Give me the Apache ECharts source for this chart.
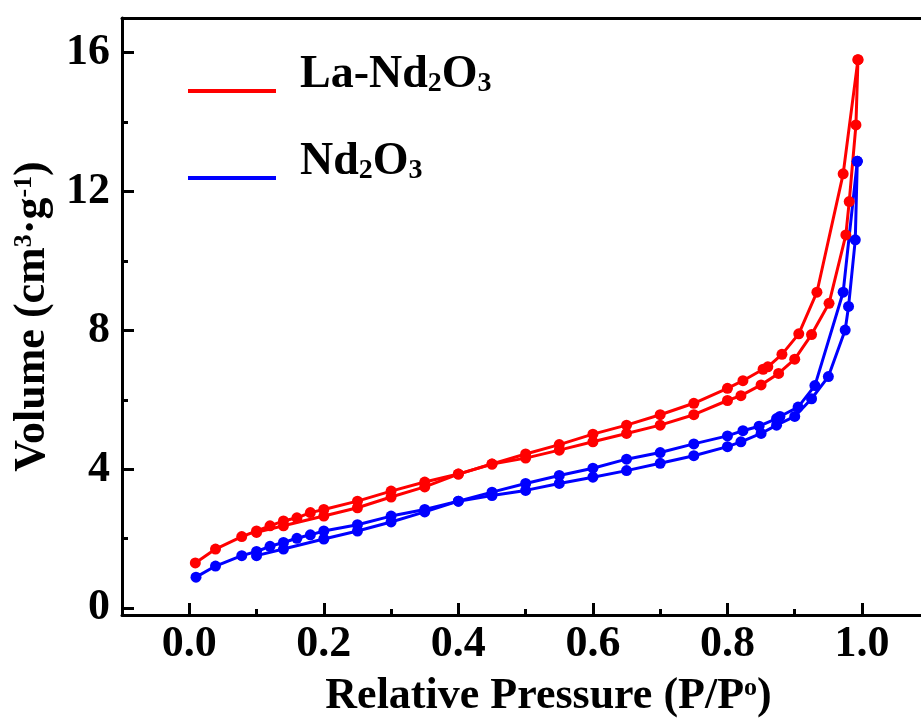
<!DOCTYPE html>
<html>
<head>
<meta charset="utf-8">
<script src="https://cdn.jsdelivr.net/npm/echarts@6/dist/echarts.min.js"></script>
<style>html,body{margin:0;padding:0;background:#fff}#c{width:921px;height:724px}</style>
</head>
<body>
<div id="c"></div>
<script>
// Data (P/P0, volume cm3/g)
var laAdsP = [0.009,0.039,0.078,0.10,0.12,0.14,0.16,0.18,0.20,0.25,0.30,0.35,0.40,0.45,0.50,0.55,0.60,0.65,0.70,0.75,0.80,0.82,0.85,0.876,0.90,0.925,0.951,0.976,0.981,0.991,0.994];
var laAdsV = [1.30,1.70,2.06,2.22,2.37,2.51,2.60,2.75,2.84,3.08,3.37,3.63,3.86,4.15,4.32,4.55,4.79,5.03,5.27,5.57,5.98,6.12,6.43,6.76,7.17,7.88,8.78,10.75,11.71,13.92,15.80];
var laDesP = [0.994,0.972,0.933,0.906,0.881,0.86,0.853,0.823,0.80,0.75,0.70,0.65,0.60,0.55,0.50,0.45,0.40,0.35,0.30,0.25,0.20,0.14,0.10];
var laDesV = [15.80,12.51,9.10,7.90,7.31,6.95,6.88,6.55,6.33,5.90,5.57,5.27,5.01,4.71,4.44,4.15,3.86,3.49,3.20,2.89,2.65,2.37,2.18];
var ndAdsP = [0.01,0.039,0.078,0.10,0.12,0.14,0.16,0.18,0.20,0.25,0.30,0.35,0.40,0.45,0.50,0.55,0.60,0.65,0.70,0.75,0.80,0.82,0.85,0.873,0.90,0.925,0.95,0.975,0.98,0.99,0.993];
var ndAdsV = [0.89,1.21,1.51,1.63,1.78,1.89,2.01,2.11,2.22,2.40,2.65,2.84,3.08,3.24,3.39,3.59,3.77,3.96,4.17,4.39,4.65,4.79,5.03,5.27,5.52,6.03,6.67,8.01,8.69,10.61,12.87];
var ndDesP = [0.993,0.972,0.93,0.905,0.878,0.873,0.847,0.823,0.80,0.75,0.70,0.65,0.60,0.55,0.50,0.45,0.40,0.35,0.30,0.25,0.20,0.14,0.10];
var ndDesV = [12.87,9.10,6.41,5.79,5.52,5.46,5.24,5.11,4.96,4.73,4.48,4.29,4.03,3.82,3.59,3.34,3.08,2.77,2.48,2.22,1.99,1.70,1.51];

var xMajor = [0, 0.2, 0.4, 0.6, 0.8, 1.0];
var xMinor = [0.1, 0.3, 0.5, 0.7, 0.9];
var yMajor = [0, 4, 8, 12, 16];
var yMinor = [2, 6, 10, 14];
var names = ['La-Nd2O3', 'Nd2O3'];
var colors = ['#ff0000', '#0000ff'];

function zip(a, b) { return a.map(function (v, i) { return [v, b[i]]; }); }

var FONT = '"Liberation Serif","Times New Roman",serif';
var X_MIN = -0.1, X_MAX = 1.0877, Y_MIN = -0.2, Y_MAX = 17;
var chart = echarts.init(document.getElementById('c'), null, {renderer: 'canvas'});

function mkSeries(name, color, p, v) {
  return {
    name: name, type: 'line', xAxisIndex: 0, yAxisIndex: 0,
    data: zip(p, v), symbol: 'circle', symbolSize: 11, showSymbol: true,
    lineStyle: {color: color, width: 3}, itemStyle: {color: color},
    emphasis: {disabled: true}, animation: false, z: 3
  };
}

var option = {
  animation: false,
  backgroundColor: '#fff',
  grid: {left: 122, right: 0, top: 18, bottom: 105, containLabel: false},
  legend: {
    orient: 'vertical', left: 188, top: 52, padding: 0, itemGap: 41,
    itemWidth: 88, itemHeight: 4, icon: 'rect', selectedMode: false,
    data: names,
    formatter: function (n) {
      return n === 'La-Nd2O3' ? '{n|La-Nd}{s|2}{n|O}{s|3}' : '{n|Nd}{s|2}{n|O}{s|3}';
    },
    textStyle: {
      padding: [0, 0, 32, 19], color: '#000',
      fontFamily: FONT, fontWeight: 'bold', fontSize: 46,
      rich: {
        n: {fontFamily: FONT, fontWeight: 'bold', fontSize: 46, lineHeight: 46, color: '#000'},
        s: {fontFamily: FONT, fontWeight: 'bold', fontSize: 28, lineHeight: 8, verticalAlign: 'bottom', color: '#000'}
      }
    }
  },
  xAxis: [
    {
      type: 'value', position: 'bottom', min: X_MIN, max: X_MAX,
      axisLine: {show: true, onZero: false, lineStyle: {color: '#000', width: 3}},
      axisTick: {show: true, inside: true, length: 12, customValues: xMajor, lineStyle: {color: '#000', width: 3}},
      axisLabel: {show: true, customValues: xMajor, margin: 8, color: '#000', fontFamily: FONT, fontWeight: 'bold', fontSize: 44,
        formatter: function (v) { return v.toFixed(1); }},
      splitLine: {show: false},
      name: '{n|Relative Pressure (P/P}{p|o}{n|)}', nameLocation: 'middle', nameGap: 60,
      nameTextStyle: {padding: [0, 0, 0, 54], color: '#000', fontFamily: FONT, fontWeight: 'bold', fontSize: 44,
        rich: {
          n: {fontFamily: FONT, fontWeight: 'bold', fontSize: 44, lineHeight: 44, color: '#000'},
          p: {fontFamily: FONT, fontWeight: 'bold', fontSize: 26, lineHeight: 26, verticalAlign: 'top', color: '#000'}
        }}
    },
    {
      type: 'value', position: 'bottom', min: X_MIN, max: X_MAX,
      axisLine: {show: false, onZero: false},
      axisTick: {show: true, inside: true, length: 6, customValues: xMinor, lineStyle: {color: '#000', width: 3}},
      axisLabel: {show: false}, splitLine: {show: false}
    },
    {
      type: 'value', position: 'top', min: X_MIN, max: X_MAX,
      axisLine: {show: true, onZero: false, lineStyle: {color: '#000', width: 3}},
      axisTick: {show: false}, axisLabel: {show: false}, splitLine: {show: false}
    }
  ],
  yAxis: [
    {
      type: 'value', position: 'left', min: Y_MIN, max: Y_MAX,
      axisLine: {show: true, onZero: false, lineStyle: {color: '#000', width: 3}},
      axisTick: {show: true, inside: true, length: 12, customValues: yMajor, lineStyle: {color: '#000', width: 3}},
      axisLabel: {show: true, customValues: yMajor, margin: 12, color: '#000', fontFamily: FONT, fontWeight: 'bold', fontSize: 44},
      splitLine: {show: false},
      name: '{n|Volume (cm}{p|3}{n|·g}{p|-1}{n|)}', nameLocation: 'middle', nameGap: 66,
      nameTextStyle: {color: '#000', fontFamily: FONT, fontWeight: 'bold', fontSize: 44,
        rich: {
          n: {fontFamily: FONT, fontWeight: 'bold', fontSize: 44, lineHeight: 44, color: '#000'},
          p: {fontFamily: FONT, fontWeight: 'bold', fontSize: 26, lineHeight: 26, verticalAlign: 'top', color: '#000'}
        }}
    },
    {
      type: 'value', position: 'left', min: Y_MIN, max: Y_MAX,
      axisLine: {show: false, onZero: false},
      axisTick: {show: true, inside: true, length: 6, customValues: yMinor, lineStyle: {color: '#000', width: 3}},
      axisLabel: {show: false}, splitLine: {show: false}
    }
  ],
  series: [
    mkSeries(names[0], colors[0], laAdsP, laAdsV),
    mkSeries(names[0], colors[0], laDesP, laDesV),
    mkSeries(names[1], colors[1], ndAdsP, ndAdsV),
    mkSeries(names[1], colors[1], ndDesP, ndDesV)
  ]
};
chart.setOption(option);
</script>
</body>
</html>
